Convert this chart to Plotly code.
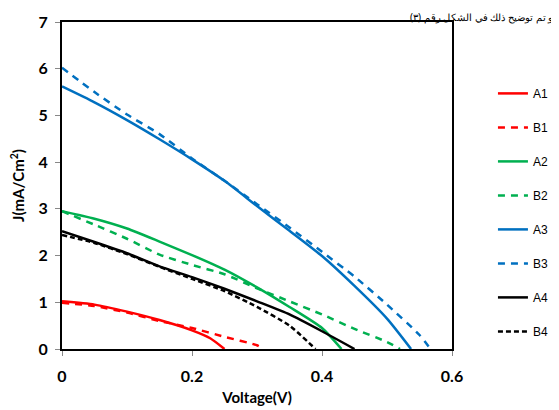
import plotly.graph_objects as go

# ---- data ----
v_A1 = [0, 0.05, 0.1, 0.15, 0.2, 0.228, 0.25]
j_A1 = [1.02, 0.95, 0.80, 0.62, 0.40, 0.23, 0.0]
v_B1 = [0, 0.05, 0.1, 0.15, 0.2, 0.25, 0.3, 0.31]
j_B1 = [0.99, 0.92, 0.78, 0.60, 0.45, 0.26, 0.08, 0.0]

v_A2 = [0, 0.05, 0.1, 0.15, 0.2, 0.25, 0.3, 0.35, 0.4, 0.43]
j_A2 = [2.95, 2.79, 2.58, 2.30, 2.01, 1.70, 1.32, 0.90, 0.45, 0.0]
v_B2 = [0, 0.05, 0.1, 0.15, 0.2, 0.25, 0.3, 0.35, 0.4, 0.45, 0.5, 0.52]
j_B2 = [2.95, 2.66, 2.36, 2.02, 1.80, 1.60, 1.30, 1.02, 0.74, 0.43, 0.15, 0.0]

v_A3 = [0, 0.05, 0.1, 0.15, 0.2, 0.25, 0.3, 0.35, 0.4, 0.45, 0.5, 0.537]
j_A3 = [5.62, 5.28, 4.90, 4.49, 4.06, 3.60, 3.06, 2.53, 1.99, 1.35, 0.65, 0.0]
v_B3 = [0, 0.05, 0.1, 0.15, 0.2, 0.25, 0.3, 0.35, 0.4, 0.45, 0.5, 0.55, 0.567]
j_B3 = [6.02, 5.50, 5.02, 4.60, 4.08, 3.60, 3.10, 2.60, 2.08, 1.55, 0.95, 0.30, 0.0]

v_A4 = [0, 0.05, 0.1, 0.15, 0.2, 0.25, 0.3, 0.35, 0.4, 0.45]
j_A4 = [2.52, 2.29, 2.05, 1.77, 1.54, 1.29, 1.02, 0.74, 0.38, 0.0]
v_B4 = [0, 0.05, 0.1, 0.15, 0.2, 0.25, 0.3, 0.35, 0.39]
j_B4 = [2.44, 2.27, 2.03, 1.76, 1.50, 1.24, 0.90, 0.50, 0.0]

x_ticks = [0, 0.2, 0.4, 0.6]
x_tick_labels = ["0", "0.2", "0.4", "0.6"]
y_ticks = [0, 1, 2, 3, 4, 5, 6, 7]

series = [
    ("A1", v_A1, j_A1, "#FF0000", "solid"),
    ("B1", v_B1, j_B1, "#FF0000", "7px,6px"),
    ("A2", v_A2, j_A2, "#00B050", "solid"),
    ("B2", v_B2, j_B2, "#00B050", "7px,6px"),
    ("A3", v_A3, j_A3, "#0070C0", "solid"),
    ("B3", v_B3, j_B3, "#0070C0", "7px,6px"),
    ("A4", v_A4, j_A4, "#000000", "solid"),
    ("B4", v_B4, j_B4, "#000000", "5px,3px"),
]

fig = go.Figure()
for name, xs, ys, color, dash in series:
    fig.add_trace(go.Scatter(
        x=xs, y=ys, name=name, mode="lines", legendgroup=name,
        line=dict(color=color, width=2.5, dash=dash, shape="spline", smoothing=0.6),
    ))

FONT = "Lato"
axis_common = dict(
    showline=True, linecolor="black", linewidth=2, mirror=True,
    ticks="outside", tickcolor="#888888", ticklen=5, tickwidth=1,
    showgrid=False, zeroline=False, automargin=False,
    tickfont=dict(family=FONT, size=16, color="black", weight="bold"),
)

fig.update_layout(
    width=559, height=410,
    margin=dict(l=54, r=115, t=14, b=69, autoexpand=False),
    paper_bgcolor="white", plot_bgcolor="white",
    xaxis=dict(range=[0, 0.6], tickvals=x_ticks, ticktext=x_tick_labels,
               ticklabelstandoff=7,
               title=dict(text="Voltage(V)", standoff=8,
                          font=dict(family=FONT, size=15, color="black", weight="bold")),
               **axis_common),
    yaxis=dict(range=[0, 7], tickvals=y_ticks, ticklabelstandoff=4,
               title=dict(text="J(mA/Cm<sup>2</sup>)", standoff=14,
                          font=dict(family=FONT, size=15, color="black", weight="bold")),
               **axis_common),
    legend=dict(x=1.105, y=0.826, xanchor="left", yanchor="top",
                font=dict(family="Liberation Sans", size=12, color="black"),
                tracegroupgap=15, bgcolor="rgba(0,0,0,0)", itemwidth=30),
    showlegend=True,
    annotations=[dict(
        text="و تم توضيح ذلك في الشكل رقم (٣)", xref="paper", yref="paper",
        x=1.265, y=1.043, xanchor="right", yanchor="top", showarrow=False,
        font=dict(family="Noto Sans", size=10, color="black"),
    )],
)

fig.write_html("out.html")
